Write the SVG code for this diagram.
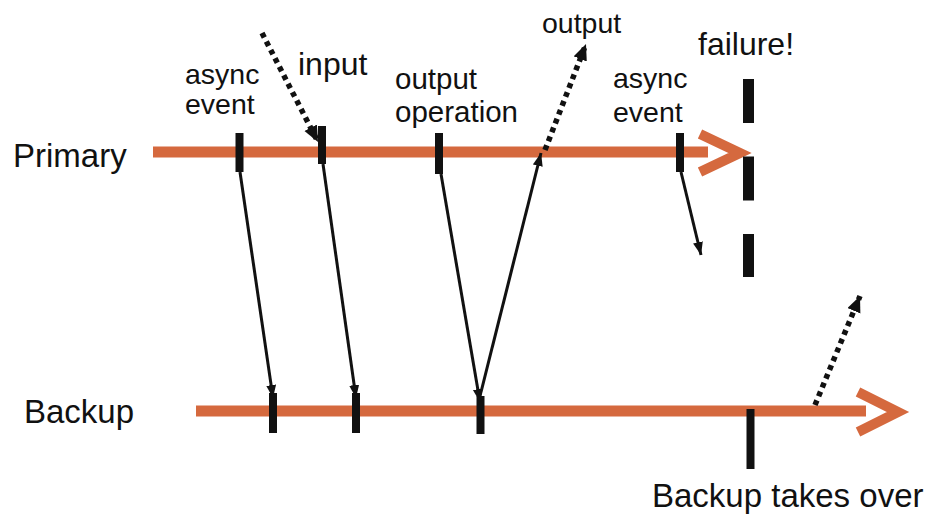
<svg xmlns="http://www.w3.org/2000/svg" width="940" height="528" viewBox="0 0 940 528">
<style>
.tl{stroke:#d5693e;stroke-width:11;fill:none}
.chev{stroke:#d5693e;stroke-width:10;fill:none;stroke-linejoin:miter}
.tick{stroke:#111;stroke-width:8}
.msg{stroke:#111;stroke-width:3;fill:none}
.dot{stroke:#111;stroke-width:5.5;fill:none;stroke-dasharray:5 4.5}
text{font-family:"Liberation Sans",Arial,Helvetica,sans-serif;fill:#111}
.lbl{font-size:33px}
.sm{font-size:28.5px}
.md{font-size:29.5px}
.lg{font-size:32px}
</style>
<defs>
<marker id="ah" markerUnits="userSpaceOnUse" markerWidth="14" markerHeight="12" refX="13" refY="5" orient="auto">
<path d="M0,0 L13,5 L0,10 z" fill="#111"/>
</marker>
<marker id="ahd" markerUnits="userSpaceOnUse" markerWidth="18" markerHeight="16" refX="16" refY="7" orient="auto">
<path d="M0,0 L16,7 L0,14 z" fill="#111"/>
</marker>
</defs>
<rect width="940" height="528" fill="#fff"/>
<g id="primary">
<line class="tl" x1="153" y1="152" x2="708" y2="152"/>
<polyline class="chev" points="700,134 740,153 700,172"/>
<text class="lbl" x="13" y="167">Primary</text>
</g>
<g id="backup">
<line class="tl" x1="196" y1="411" x2="866" y2="411"/>
<polyline class="chev" points="858,392 898,412 858,432"/>
<text class="lbl" x="24" y="423">Backup</text>
</g>
<g id="p-async1">
<line class="tick" x1="239.5" y1="133" x2="239.5" y2="172"/>
<text class="sm" x="185" y="84">async</text>
<text class="sm" x="185" y="114">event</text>
</g>
<g id="p-input">
<line class="tick" x1="322" y1="126" x2="322" y2="164"/>
<text class="lg" x="298" y="75">input</text>
</g>
<g id="p-output">
<line class="tick" x1="439" y1="133" x2="439" y2="174"/>
<text class="md" x="395" y="89">output</text>
<text class="md" x="395" y="122">operation</text>
</g>
<g id="p-async2">
<line class="tick" x1="680" y1="133" x2="680" y2="172"/>
<text class="sm" x="613" y="88">async</text>
<text class="sm" x="613" y="122">event</text>
</g>
<g id="output-label">
<text class="sm" x="542" y="33">output</text>
</g>
<g id="failure">
<line x1="748.5" y1="79" x2="748.5" y2="277" stroke="#111" stroke-width="11" stroke-dasharray="44 33.5"/>
<text class="lg" x="698" y="55">failure!</text>
</g>
<g id="b-tick1"><line class="tick" x1="273" y1="393" x2="273" y2="433"/></g>
<g id="b-tick2"><line class="tick" x1="356" y1="393" x2="356" y2="433"/></g>
<g id="b-tick3"><line class="tick" x1="480.5" y1="396" x2="480.5" y2="434"/></g>
<g id="takeover">
<line class="tick" x1="750.5" y1="409" x2="750.5" y2="469"/>
<text class="lbl" x="652" y="507">Backup takes over</text>
</g>
<g id="connectors">
<line class="msg" x1="240" y1="172" x2="273" y2="398" marker-end="url(#ah)"/>
<line class="msg" x1="323" y1="164" x2="356" y2="398" marker-end="url(#ah)"/>
<line class="msg" x1="441" y1="174" x2="480" y2="402" marker-end="url(#ah)"/>
<line class="msg" x1="479" y1="400" x2="541" y2="153" marker-end="url(#ah)"/>
<line class="msg" x1="681" y1="172" x2="701" y2="255" marker-end="url(#ah)"/>
<line class="dot" x1="262" y1="33" x2="318" y2="142" marker-end="url(#ahd)"/>
<line class="dot" x1="545" y1="150" x2="586" y2="44" marker-end="url(#ahd)"/>
<line class="dot" x1="815" y1="405" x2="860" y2="296" marker-end="url(#ahd)"/>
</g>
</svg>
